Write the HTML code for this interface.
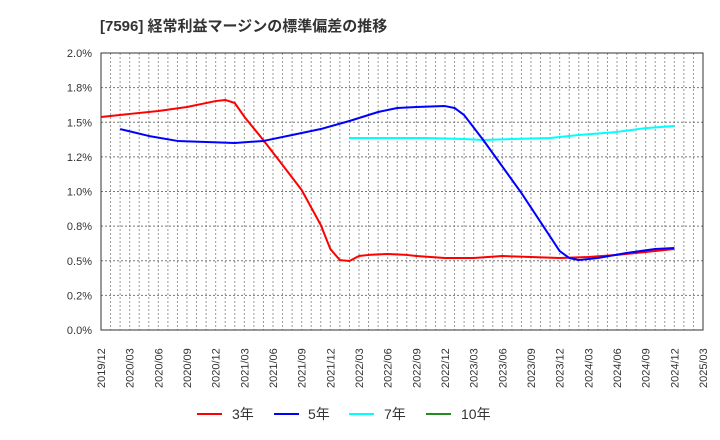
<!DOCTYPE html>
<html><head><meta charset="utf-8"><style>
body{margin:0;background:#fff;}
svg{display:block;font-family:"Liberation Sans","Noto Sans CJK JP",sans-serif;}
</style></head><body>
<svg id="chart" width="720" height="440" viewBox="0 0 720 440">
<text x="100" y="31" font-size="15" font-weight="bold" fill="#333">[7596]  経常利益マージンの標準偏差の推移</text>
<g id="grid"></g><g id="axes"></g><g id="series"></g>
<g id="legend"></g>
</svg>
<script>
const yTicks=[0,0.25,0.5,0.75,1.0,1.25,1.5,1.75,2.0];
const yTickLabels=["0.0%","0.2%","0.5%","0.8%","1.0%","1.2%","1.5%","1.8%","2.0%"];
const xTickLabels=["2019/12","2020/03","2020/06","2020/09","2020/12","2021/03","2021/06","2021/09","2021/12","2022/03","2022/06","2022/09","2022/12","2023/03","2023/06","2023/09","2023/12","2024/03","2024/06","2024/09","2024/12","2025/03"];
const red3Months=[0,3,6,9,12,13,14,15,17,19,21,23,24,25,26,27,28,30,32,33,36,39,42,45,48,51,54,57,60];
const red3Values=[1.538,1.560,1.581,1.610,1.653,1.661,1.639,1.540,1.370,1.191,1.011,0.758,0.585,0.505,0.498,0.534,0.542,0.549,0.542,0.534,0.520,0.520,0.534,0.527,0.520,0.527,0.542,0.563,0.585];
const blue5Months=[2,5,8,11,14,17,20,23,26,29,31,33,36,37,38,40,44,48,49,50,52,55,58,60];
const blue5Values=[1.451,1.401,1.365,1.357,1.350,1.365,1.408,1.451,1.509,1.574,1.603,1.610,1.617,1.603,1.552,1.372,0.989,0.570,0.520,0.505,0.520,0.556,0.585,0.592];
const cyan7Months=[26,30,34,38,40,43,47,50,54,57,60];
const cyan7Values=[1.386,1.386,1.386,1.379,1.372,1.379,1.386,1.408,1.430,1.458,1.473];
const green10Months=[];
const green10Values=[];

const NS="http://www.w3.org/2000/svg";
const L=101,R=703,T=53,B=330,NM=63;
const xs=m=>L+(R-L)*m/NM;
const ys=v=>B-(B-T)*v/2.0;
function mk(tag,attrs,parent){const e=document.createElementNS(NS,tag);for(const k in attrs)e.setAttribute(k,attrs[k]);parent.appendChild(e);return e;}
const grid=document.getElementById('grid'),axes=document.getElementById('axes'),ser=document.getElementById('series'),leg=document.getElementById('legend');
for(let m=1;m<NM;m++){const l=mk('line',{x1:xs(m),x2:xs(m),y1:T,y2:B,stroke:'#999','stroke-dasharray':'2,2','stroke-width':1},grid);

}
yTicks.forEach((v,i)=>{
 if(v>0&&v<2){const g=mk('line',{x1:L,x2:R,y1:ys(v),y2:ys(v),stroke:'#777','stroke-dasharray':'2,2','stroke-width':1},grid);
 
 }
 const t=mk('text',{x:92,y:ys(v)+4,'text-anchor':'end','font-size':11,fill:'#333'},axes);t.textContent=yTickLabels[i];
 
 
});
xTickLabels.forEach((s,i)=>{const x=xs(i*3);
 const t=mk('text',{transform:`translate(${x+4},388) rotate(-90)`,'font-size':11,fill:'#333'},axes);t.textContent=s;
 
 });
const fr=mk('rect',{x:L,y:T,width:R-L,height:B-T,fill:'none',stroke:'#333','stroke-width':1},axes);


function line(ms,vs,color,name){if(!ms.length)return;
 const p=mk('polyline',{points:ms.map((m,i)=>xs(m)+','+ys(vs[i])).join(' '),fill:'none',stroke:color,'stroke-width':2,'stroke-linejoin':'round'},ser);
 
 }
line(cyan7Months,cyan7Values,'#00ffff','line-7y');
line(red3Months,red3Values,'#ff0000','line-3y');
line(blue5Months,blue5Values,'#0000ff','line-5y');
line(green10Months,green10Values,'#228b22','line-10y');
const items=[[197,232,'#ff0000','3年'],[274,308,'#0000ff','5年'],[349,384,'#00ffff','7年'],[426,461,'#228b22','10年']];
items.forEach(it=>{const l=mk('line',{x1:it[0],x2:it[0]+25,y1:414,y2:414,stroke:it[2],'stroke-width':2},leg);
 
 
 const t=mk('text',{x:it[1],y:419,'font-size':14,fill:'#333'},leg);t.textContent=it[3];
 
 });
</script>
</body></html>
